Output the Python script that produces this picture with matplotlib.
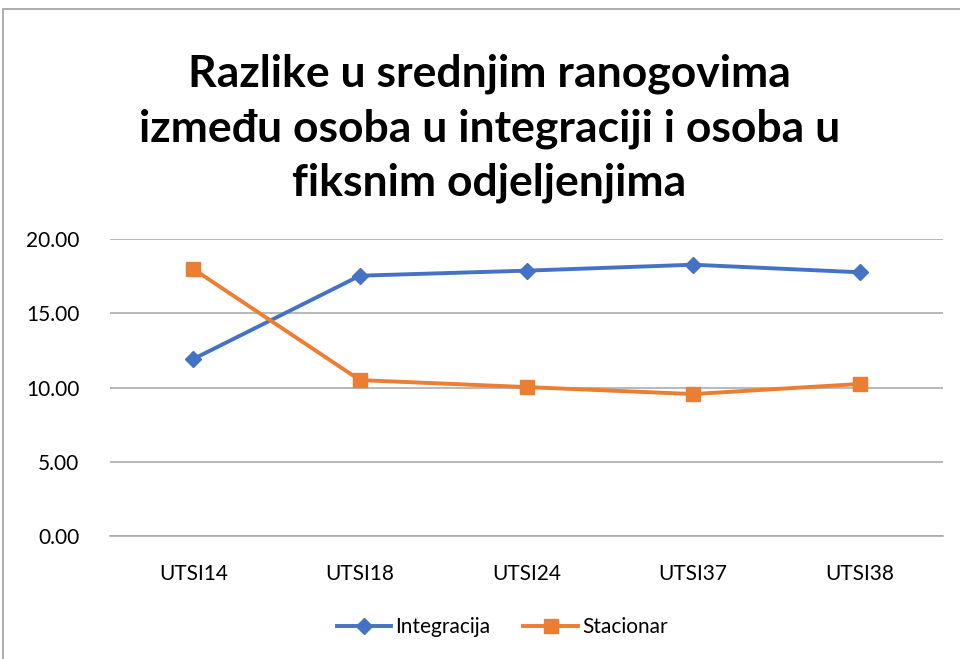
import matplotlib.pyplot as plt
from matplotlib.patches import Rectangle

# Data
categories = ['UTSI14', 'UTSI18', 'UTSI24', 'UTSI37', 'UTSI38']
integracija = [11.92, 17.53, 17.87, 18.27, 17.76]
stacionar = [17.98, 10.50, 10.03, 9.56, 10.24]
y_ticks = [0, 5, 10, 15, 20]

plt.rcParams['font.family'] = ['Lato', 'DejaVu Sans']

fig = plt.figure(figsize=(9.6, 6.59), dpi=100)
ax = fig.add_axes([0.1146, 0.1866, 0.8677, 0.4507])

x = range(len(categories))
ax.plot(x, integracija, color='#4472C4', linewidth=2.8, marker='D',
        markersize=8, label='Integracija')
ax.plot(x, stacionar, color='#ED7D31', linewidth=2.8, marker='s',
        markersize=10, label='Stacionar')

ax.set_xlim(-0.5, len(categories) - 0.5)
ax.set_ylim(0, 20)
ax.set_yticks(y_ticks)
ax.set_yticklabels([f'{v:.2f}' for v in y_ticks])
ax.set_xticks(list(x))
ax.set_xticklabels(categories)
ax.tick_params(axis='both', length=0, labelsize=15, colors='#000000')
ax.tick_params(axis='y', pad=22)
ax.tick_params(axis='x', pad=20)
ax.grid(axis='y', color='#a6a6a6', linewidth=1.1)
ax.set_axisbelow(True)
for side in ['top', 'right', 'left']:
    ax.spines[side].set_visible(False)
ax.spines['bottom'].set_color('#a6a6a6')
ax.spines['bottom'].set_linewidth(1.1)

# Title
fig.text(0.51, 0.805, 'Razlike u srednjim ranogovima\nizmeđu osoba u integraciji i osoba u\nfiksnim odjeljenjima',
         ha='center', va='center', fontsize=32, fontweight='bold', linespacing=1.42)

# Legend
fig.legend(loc='center', bbox_to_anchor=(0.523, 0.048), ncol=2, frameon=False,
           fontsize=15, handlelength=2.6, columnspacing=1.6, handletextpad=0.2)

# Chart border
fig.patches.append(Rectangle((3 / 960, -1), 2, 1 + (1 - 9 / 659), transform=fig.transFigure,
                             fill=False, edgecolor='#a0a0a0', linewidth=1.2))

fig.savefig('out.png', dpi=100, facecolor='white')
